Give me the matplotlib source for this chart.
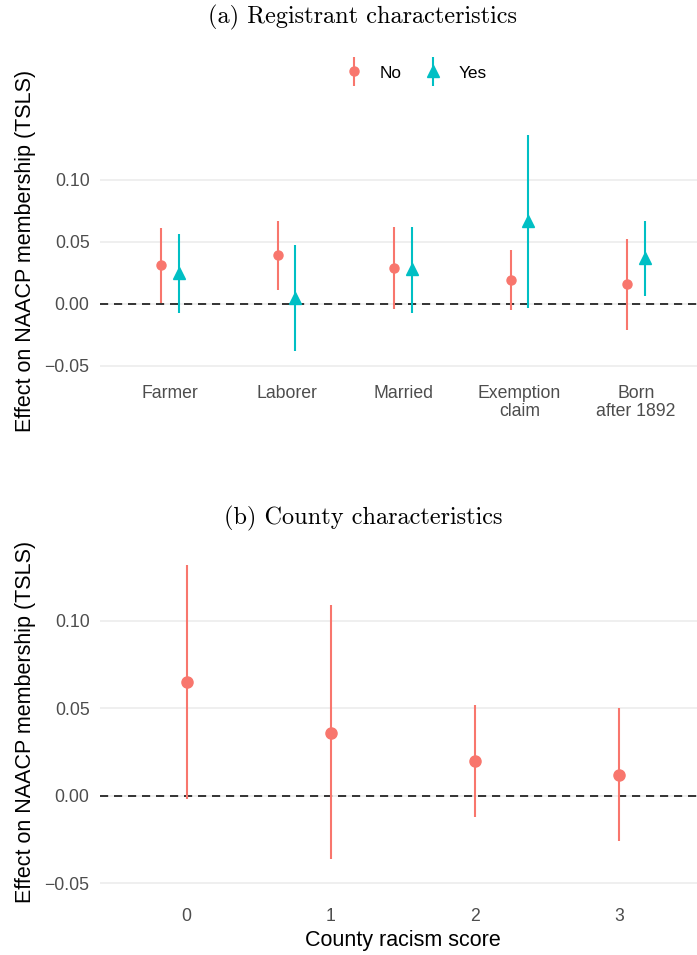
import matplotlib
matplotlib.use("Agg")
import matplotlib.pyplot as plt
from matplotlib.container import ErrorbarContainer
from matplotlib.legend_handler import HandlerErrorbar

plt.rcParams['font.family'] = ['Liberation Sans', 'DejaVu Sans']

# panel (a): registrant characteristics, split by group
categories = ["Farmer", "Laborer", "Married", "Exemption\nclaim", "Born\nafter 1892"]
no_est = [0.031, 0.039, 0.029, 0.019, 0.016]
no_lo = [0.001, 0.011, -0.004, -0.005, -0.021]
no_hi = [0.061, 0.067, 0.062, 0.043, 0.052]
yes_est = [0.025, 0.005, 0.028, 0.067, 0.037]
yes_lo = [-0.007, -0.038, -0.007, -0.003, 0.006]
yes_hi = [0.056, 0.047, 0.062, 0.136, 0.067]

# panel (b): county racism score
scores = ["0", "1", "2", "3"]
county_est = [0.065, 0.036, 0.020, 0.012]
county_lo = [-0.002, -0.036, -0.012, -0.026]
county_hi = [0.132, 0.109, 0.052, 0.050]

yticks = [-0.05, 0.00, 0.05, 0.10]
ytick_labels = ["\u22120.05", "0.00", "0.05", "0.10"]

RED = "#F8766D"
TEAL = "#00BFC4"
W, H = 697, 955
ylims = (-0.0593, 0.1443)


def px_axes(fig, left, top, right, bottom):
    return fig.add_axes([left / W, 1 - bottom / H, (right - left) / W, (bottom - top) / H])


def style(ax, ncat):
    ax.set_xlim(-0.6, ncat - 0.4)
    ax.set_ylim(*ylims)
    ax.set_yticks(yticks)
    ax.set_yticklabels(ytick_labels)
    for s in ax.spines.values():
        s.set_visible(False)
    ax.tick_params(length=0, labelsize=12.7, labelcolor="#4D4D4D")
    ax.tick_params(axis="y", pad=7.5)
    ax.grid(axis="y", color="#EBEBEB", linewidth=1.1)
    ax.set_axisbelow(True)
    ax.axhline(0, color="#333333", linewidth=1.4, dashes=(4.2, 3.0), zorder=1.5)


def pointrange(ax, x, est, lo, hi, color, marker, ms, label=None):
    yerr = [[e - l for e, l in zip(est, lo)], [h - e for e, h in zip(est, hi)]]
    return ax.errorbar(x, est, yerr=yerr, fmt=marker, color=color, ecolor=color,
                       elinewidth=1.5, ms=ms, capsize=0, label=label, zorder=3)


fig = plt.figure(figsize=(W / 100, H / 100), dpi=100)

# --- (a) Registrant characteristics
ax1 = px_axes(fig, 100, 124.6, 706, 377.5)
style(ax1, len(categories))
xs = list(range(len(categories)))
h_no = pointrange(ax1, [x - 0.075 for x in xs], no_est, no_lo, no_hi, RED, "o", 6.5, "No")
h_yes = pointrange(ax1, [x + 0.075 for x in xs], yes_est, yes_lo, yes_hi, TEAL, "^", 8.5, "Yes")
ax1.set_xticks(xs)
ax1.set_xticklabels(categories, linespacing=1.1)
ax1.tick_params(axis="x", pad=5.5)

fig.text(363 / W, 1 - 17 / H, "(a) Registrant characteristics", family="cmr10",
         fontsize=17.5, ha="center", va="center")
fig.text(26 / W, 1 - 251 / H, "Effect on NAACP membership (TSLS)", rotation=90,
         fontsize=15.5, ha="center", va="center")

fig.legend(handles=[h_no, h_yes], labels=["No", "Yes"], ncol=2, frameon=False,
           loc="center", bbox_to_anchor=(415 / W, 1 - 73 / H), fontsize=12.4,
           handlelength=1.2, handletextpad=0.9, columnspacing=1.2,
           handler_map={ErrorbarContainer: HandlerErrorbar(yerr_size=0.85)})

# --- (b) County characteristics
ax2 = px_axes(fig, 100, 543.5, 706, 899.4)
style(ax2, len(scores))
xs2 = list(range(len(scores)))
pointrange(ax2, xs2, county_est, county_lo, county_hi, RED, "o", 8.0)
ax2.set_xticks(xs2)
ax2.set_xticklabels(scores)
ax2.tick_params(axis="x", pad=6.5)
ax2.set_xlabel("County racism score", fontsize=15.5, labelpad=3)

fig.text(363 / W, 1 - 518 / H, "(b) County characteristics", family="cmr10",
         fontsize=17.5, ha="center", va="center")
fig.text(26 / W, 1 - 722 / H, "Effect on NAACP membership (TSLS)", rotation=90,
         fontsize=15.5, ha="center", va="center")

fig.savefig("out.png", dpi=100)
